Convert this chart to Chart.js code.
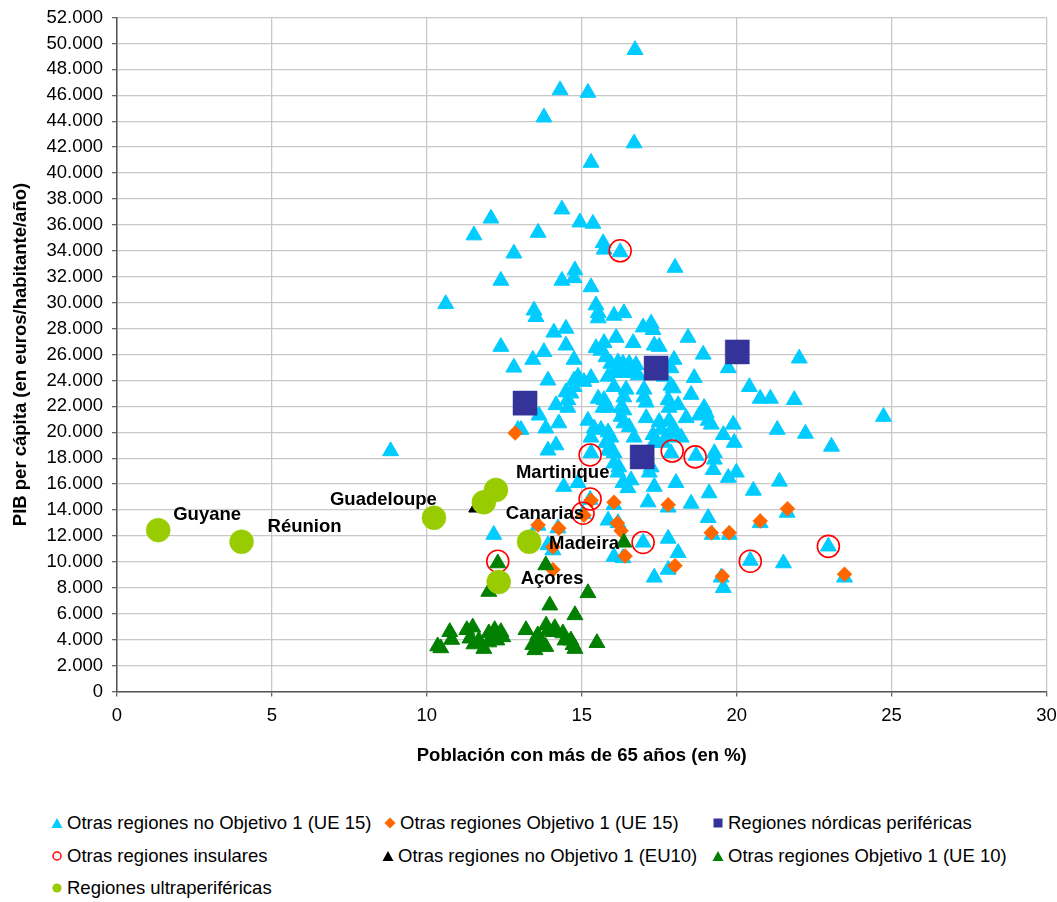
<!DOCTYPE html>
<html lang="es">
<head>
<meta charset="utf-8">
<title>PIB per cápita y población mayor de 65 años</title>
<script src="https://cdn.jsdelivr.net/npm/chart.js@4.4.1/dist/chart.umd.min.js"></script>
<style>
  html, body { margin: 0; padding: 0; background: #ffffff; }
  body { width: 1057px; height: 902px; position: relative; overflow: hidden;
         font-family: "Liberation Sans", Arial, sans-serif; }
  #wrap { position: absolute; left: 0; top: 0; width: 1057px; height: 780px; overflow: hidden; }
  #c { display: block; }
  .lg { position: absolute; height: 22px; display: flex; align-items: center;
        font-size: 18.5px; color: #000; white-space: nowrap; }
  .lg svg { flex: none; margin-right: 4px; }
</style>
</head>
<body>
<div id="wrap"><canvas id="c" width="1064" height="780"></canvas></div>
<div id="legend"></div>
<script>
// Otras regiones no Objetivo 1 (UE 15): [población > 65 años (%), PIB per cápita]
const noObj1UE15 = [
  [16.72,49500],[14.30,46400],[15.20,46200],[13.78,44300],[16.69,42300],[15.30,40800],
  [14.36,37200],[12.07,36500],[14.94,36200],[15.36,36100],[11.52,35200],[13.59,35400],
  [12.81,33800],[15.69,34600],[15.72,34100],[16.24,33900],[18.01,32700],[12.39,31700],
  [14.36,31700],[14.78,32500],[14.75,31900],[15.30,31200],[10.61,29900],[15.46,29800],
  [15.53,29200],[13.46,29400],[13.52,28900],[15.53,28800],[16.04,29000],[16.36,29200],
  [14.10,27700],[14.49,28000],[16.98,28100],[17.24,28400],[17.30,27900],[18.43,27300],
  [16.11,27300],[16.66,26900],[17.34,26700],[17.50,26600],[15.72,26900],[15.62,26300],
  [15.46,26500],[15.78,25800],[12.39,26600],[14.49,26700],[13.78,26200],[13.42,25600],
  [12.81,25000],[14.75,25600],[18.92,26000],[17.98,25600],[19.73,24950],[22.02,25700],
  [15.94,25300],[16.17,25400],[16.33,25300],[16.53,25300],[16.75,25200],[16.04,24600],
  [16.27,24600],[16.49,24600],[16.69,24600],[15.85,24300],[16.82,24400],[17.88,24950],
  [17.66,24300],[17.88,23600],[17.95,23400],[18.63,24200],[13.91,24000],[14.75,24000],
  [14.88,24300],[15.07,23900],[15.30,24200],[14.49,23100],[14.65,23000],[16.04,23500],
  [16.43,23300],[16.36,22700],[17.01,23300],[17.01,22700],[17.08,22300],[18.53,22900],
  [20.41,23500],[20.76,22600],[21.09,22600],[21.86,22500],[14.17,22100],[14.55,21900],
  [15.53,22600],[15.69,21900],[15.72,22500],[15.85,21900],[16.27,21900],[16.36,21700],
  [16.27,21200],[16.36,20700],[16.53,20400],[17.79,22500],[17.82,21900],[18.11,22100],
  [18.95,21900],[19.02,21500],[19.18,20600],[13.62,21300],[13.84,20300],[14.26,20700],
  [12.94,20200],[15.20,20900],[15.40,20300],[15.30,19600],[15.62,20200],[17.08,21100],
  [17.50,20800],[17.82,20900],[17.95,20400],[18.37,21100],[18.79,21300],[19.08,20900],
  [19.89,20600],[19.57,19800],[19.92,19200],[21.31,20200],[22.22,19900],[24.74,21200],
  [23.06,18900],[15.85,20000],[15.94,19600],[15.85,19200],[16.69,19600],[17.30,19800],
  [17.34,19200],[17.72,19600],[17.63,19200],[18.21,19600],[15.94,18600],[13.91,18600],
  [14.17,19000],[15.30,18400],[15.78,19200],[15.85,18600],[17.88,18400],[18.69,18200],
  [19.28,18400],[19.28,17900],[8.83,18550],[16.04,18400],[16.20,17300],[16.17,16900],
  [16.33,16100],[16.49,15700],[16.59,16300],[17.18,16900],[17.34,15800],[18.04,16100],
  [19.24,17100],[19.73,16500],[19.99,16900],[20.54,15500],[21.38,16200],[19.11,15300],
  [18.53,14500],[17.14,14600],[16.04,14400],[14.42,15800],[14.88,16100],[19.08,13400],
  [17.79,14200],[12.16,12100],[13.59,12800],[14.23,12600],[15.85,13200],[16.17,13000],
  [16.98,11500],[17.79,11800],[18.11,10700],[17.34,8800],[17.79,9400],[19.57,8000],
  [19.50,8800],[20.44,10100],[13.91,11300],[14.07,10900],[16.04,10400],[16.33,10300],
  [19.21,12100],[19.76,12100],[20.76,13000],[21.63,13800],[21.51,9900],[23.48,8800],
  [22.96,11200],[15.27,14800],[15.04,13700],[16.04,17600],[17.24,17300],[13.04,20200],
  [14.55,22500],[14.75,23500],[17.56,20200],[17.98,19900]
];

// Otras regiones Objetivo 1 (UE 15)
const obj1UE15 = [
  [12.85,19950],[15.30,14750],[16.04,14600],[17.79,14400],[15.07,13600],[13.59,12850],
  [14.26,12600],[16.15,13000],[16.27,12400],[14.07,11150],[16.40,10450],[14.07,9400],
  [19.18,12250],[19.76,12250],[18.01,9700],[19.54,8900],[21.64,14100],[20.76,13150],
  [23.48,9050]
];

// Regiones nórdicas periféricas
const nordicas = [[13.17,22250],[17.40,24950],[20.02,26200],[16.95,18100]];

// Otras regiones insulares
const insulares = [
  [16.24,34000],[15.27,18250],[17.92,18550],[18.66,18100],[15.27,14850],
  [15.04,13750],[16.98,11500],[12.29,10050],[20.44,10050],[22.96,11200]
];

// Otras regiones no Objetivo 1 (EU10)
const noObj1EU10 = [[11.61,14200]];

// Otras regiones Objetivo 1 (UE 10)
const obj1UE10 = [
  [10.35,3500],[10.45,3350],[10.74,4600],[10.80,4000],[11.29,4750],[11.48,4950],
  [11.39,4100],[11.52,3650],[11.68,3950],[11.84,3300],[12.00,4500],[12.19,4750],
  [12.39,4600],[12.00,3800],[12.26,3950],[12.45,4200],[13.20,4750],[13.42,3600],
  [13.49,3200],[13.58,4350],[13.85,5100],[13.91,4650],[14.07,4600],[14.13,4900],
  [13.68,3800],[13.84,3450],[14.39,4500],[14.46,3950],[14.65,3950],[14.72,3600],
  [14.78,3300],[15.49,3750],[12.29,9900],[12.00,7700],[13.84,9750],[15.20,7600],
  [13.97,6650],[14.78,5900],[16.36,11500]
];

// Regiones ultraperiféricas
const ultraNombres = ['Guyane','Réunion','Guadeloupe','Canarias','Martinique','Madeira','Açores'];
const ultraX = [1.33, 4.02, 10.23, 11.84, 12.23, 13.30, 12.32];
const ultraY = [12450, 11550, 13400, 14600, 15550, 11550, 8450];

// Axis ranges and tick steps
const xTicks = { min: 0, max: 30, step: 5 };
const yTicks = { min: 0, max: 52000, step: 2000 };

const seriesNames = [
  'Otras regiones no Objetivo 1 (UE 15)',
  'Otras regiones Objetivo 1 (UE 15)',
  'Regiones nórdicas periféricas',
  'Otras regiones insulares',
  'Otras regiones no Objetivo 1 (EU10)',
  'Otras regiones Objetivo 1 (UE 10)',
  'Regiones ultraperiféricas'
];

const toPts = arr => arr.map(p => ({ x: p[0], y: p[1] }));
const ultraPts = ultraX.map((x, i) => ({ x: x, y: ultraY[i] }));

// Name label placement around each outermost-region marker (pixel offsets)
const labelOffsets = {
  'Guyane':     { dx: 15,   dy: -15 },
  'Réunion':    { dx: 26,   dy: -15 },
  'Guadeloupe': { dx: -104, dy: -18 },
  'Canarias':   { dx: 22,   dy: 12 },
  'Martinique': { dx: 20,   dy: -17 },
  'Madeira':    { dx: 20,   dy: 2 },
  'Açores':     { dx: 22,   dy: -3 }
};

const FONT = '"Liberation Sans", Arial, sans-serif';
const thousands = v => String(v).replace(/\B(?=(\d{3})+(?!\d))/g, '.');

const pointLabels = {
  id: 'pointLabels',
  afterDatasetsDraw(chart) {
    const ctx = chart.ctx;
    const xs = chart.scales.x, ys = chart.scales.y;
    ctx.save();
    ctx.font = 'bold 18.5px ' + FONT;
    ctx.fillStyle = '#000';
    ctx.textBaseline = 'middle';
    ctx.textAlign = 'left';
    ultraPts.forEach((p, i) => {
      const name = ultraNombres[i];
      const off = labelOffsets[name];
      ctx.fillText(name, xs.getPixelForValue(p.x) + off.dx, ys.getPixelForValue(p.y) + off.dy);
    });
    ctx.restore();
  }
};

const tri = { pointStyle: 'triangle', pointRadius: 9.2, borderWidth: 1 };

new Chart(document.getElementById('c'), {
  type: 'scatter',
  data: {
    datasets: [
      Object.assign({ label: seriesNames[0], data: toPts(noObj1UE15),
        backgroundColor: '#00CCFF', borderColor: '#00CCFF', order: 7 }, tri),
      { label: seriesNames[1], data: toPts(obj1UE15), pointStyle: 'rectRot', pointRadius: 7.5,
        backgroundColor: '#FF6600', borderColor: '#FF6600', borderWidth: 0.5, order: 6 },
      { label: seriesNames[2], data: toPts(nordicas), pointStyle: 'rect', pointRadius: 17,
        backgroundColor: '#333399', borderColor: '#333399', borderWidth: 0.5, order: 5 },
      { label: seriesNames[3], data: toPts(insulares), pointStyle: 'circle', pointRadius: 11,
        backgroundColor: 'rgba(0,0,0,0)', borderColor: '#FF0000', borderWidth: 1.6, order: 4 },
      Object.assign({ label: seriesNames[4], data: toPts(noObj1EU10),
        backgroundColor: '#000000', borderColor: '#000000', order: 3 }, tri),
      Object.assign({ label: seriesNames[5], data: toPts(obj1UE10),
        backgroundColor: '#008000', borderColor: '#008000', order: 2 }, tri),
      { label: seriesNames[6], data: ultraPts, pointStyle: 'circle', pointRadius: 12,
        backgroundColor: '#99CC00', borderColor: '#99CC00', borderWidth: 0.5, order: 1 }
    ]
  },
  options: {
    responsive: false,
    animation: false,
    events: [],
    layout: { padding: { top: 17.5, right: 5, left: 0, bottom: 0 } },
    plugins: { legend: { display: false }, tooltip: { enabled: false } },
    scales: {
      x: {
        type: 'linear', min: xTicks.min, max: xTicks.max,
        afterFit(s) { s.height = 88.5; s.paddingLeft = 0; s.paddingRight = 0; },
        ticks: { stepSize: xTicks.step, color: '#000', padding: 8,
                 font: { family: FONT, size: 18.5 } },
        grid: { color: '#c8c8c8', lineWidth: 1.3, tickLength: 5, tickColor: '#666' },
        border: { color: '#555', width: 1.5 },
        title: { display: true, text: 'Población con más de 65 años (en %)', color: '#000',
                 font: { family: FONT, size: 18.5, weight: 'bold' }, padding: { top: 4, bottom: 13 } }
      },
      y: {
        type: 'linear', min: yTicks.min, max: yTicks.max,
        afterFit(s) { s.width = 117; s.paddingTop = 0; s.paddingBottom = 0; },
        ticks: { stepSize: yTicks.step, autoSkip: false, color: '#000', padding: 9,
                 font: { family: FONT, size: 18.5 }, callback: v => thousands(v) },
        grid: { color: '#c8c8c8', lineWidth: 1.3, tickLength: 5, tickColor: '#666' },
        border: { color: '#555', width: 1.5 },
        title: { display: true, text: 'PIB per cápita (en euros/habitante/año)', color: '#000',
                 font: { family: FONT, size: 18.5, weight: 'bold' }, padding: { top: 10, bottom: 4 } }
      }
    }
  },
  plugins: [pointLabels]
});

// Legend laid out in three columns below the plot
const markers = {
  triCyan:  '<polygon points="6,1 11.5,11 0.5,11" fill="#00CCFF"/>',
  diamond:  '<polygon points="6,0.5 11.5,6 6,11.5 0.5,6" fill="#FF6600"/>',
  square:   '<rect x="1.5" y="1.5" width="9" height="9" fill="#333399"/>',
  ring:     '<circle cx="6" cy="6" r="4" fill="none" stroke="#FF0000" stroke-width="1.5"/>',
  triBlack: '<polygon points="6,1 11.5,11 0.5,11" fill="#000000"/>',
  triGreen: '<polygon points="6,1 11.5,11 0.5,11" fill="#008000"/>',
  dot:      '<circle cx="6" cy="6" r="4.6" fill="#99CC00"/>'
};
const legendItems = [
  { m: 'triCyan',  x: 51,  y: 823 },
  { m: 'diamond',  x: 384, y: 823 },
  { m: 'square',   x: 712, y: 823 },
  { m: 'ring',     x: 51,  y: 856 },
  { m: 'triBlack', x: 382, y: 856 },
  { m: 'triGreen', x: 712, y: 856 },
  { m: 'dot',      x: 51,  y: 888 }
];
const legend = document.getElementById('legend');
legendItems.forEach((it, i) => {
  const d = document.createElement('div');
  d.className = 'lg';
  d.style.left = it.x + 'px';
  d.style.top = (it.y - 11) + 'px';
  d.innerHTML = '<svg width="12" height="12" viewBox="0 0 12 12">' + markers[it.m] + '</svg>';
  const span = document.createElement('span');
  span.textContent = seriesNames[i];
  d.appendChild(span);
  legend.appendChild(d);
});
</script>
</body>
</html>
